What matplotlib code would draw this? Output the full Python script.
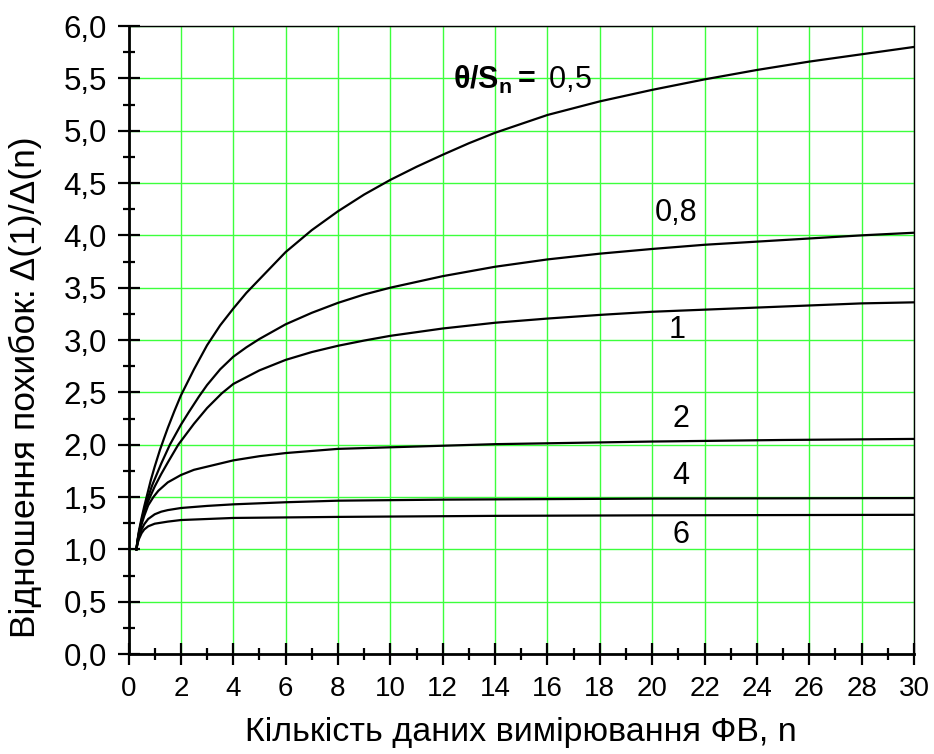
import matplotlib
matplotlib.use("Agg")
import matplotlib.pyplot as plt
from matplotlib.ticker import MultipleLocator, FuncFormatter

plt.rcParams['font.family'] = ['Liberation Sans', 'DejaVu Sans']
plt.rcParams['mathtext.fontset'] = 'custom'
plt.rcParams['mathtext.rm'] = 'Liberation Sans'
plt.rcParams['mathtext.bf'] = 'Liberation Sans:bold'
plt.rcParams['mathtext.it'] = 'Liberation Sans:italic'

# Ratio of errors Δ(1)/Δ(n) versus number of measurements n, for several θ/Sn
n_05 = [0.3, 0.35, 0.4, 0.5, 0.6, 0.69, 0.85, 1.0, 1.2, 1.37, 1.5, 1.75, 2, 2.5, 3, 3.5, 4, 4.5, 5, 6, 7, 8, 9, 10,
        11, 12, 13, 14, 16, 18, 20, 22, 24, 26, 28, 30]
r_05 = [1.0, 1.10, 1.18, 1.30, 1.41, 1.50, 1.66, 1.79, 1.95, 2.07, 2.16, 2.32, 2.47, 2.72, 2.95, 3.14, 3.30, 3.45, 3.58,
        3.84, 4.05, 4.23, 4.39, 4.53, 4.655, 4.77, 4.88, 4.98, 5.15, 5.28, 5.39, 5.49, 5.58, 5.66, 5.73, 5.80]

n_08 = [0.3, 0.35, 0.4, 0.5, 0.6, 0.75, 0.9, 1.0, 1.25, 1.58, 2, 2.3, 2.69, 3, 3.5, 4, 4.5, 5, 6, 7, 8, 9, 10,
        12, 14, 16, 18, 20, 22, 24, 26, 28, 30]
r_08 = [1.0, 1.09, 1.16, 1.28, 1.38, 1.50, 1.61, 1.67, 1.82, 2.00, 2.19, 2.31, 2.46, 2.57, 2.72, 2.84, 2.93, 3.01, 3.15,
        3.26, 3.355, 3.435, 3.50, 3.61, 3.70, 3.77, 3.825, 3.87, 3.91, 3.94, 3.97, 4.00, 4.025]

n_1 = [0.3, 0.35, 0.4, 0.5, 0.65, 0.82, 1.0, 1.25, 1.5, 1.9, 2.5, 3, 3.56, 4, 5, 6, 7, 8, 9, 10,
       12, 14, 16, 18, 20, 22, 24, 26, 28, 30]
r_1 = [1.0, 1.09, 1.16, 1.27, 1.40, 1.50, 1.60, 1.72, 1.83, 2.00, 2.20, 2.35, 2.49, 2.58, 2.71, 2.81, 2.885, 2.945,
       2.995, 3.04, 3.11, 3.165, 3.205, 3.24, 3.27, 3.29, 3.31, 3.33, 3.35, 3.36]

n_2 = [0.3, 0.35, 0.4, 0.5, 0.6, 0.75, 0.95, 1.14, 1.5, 2, 2.5, 3, 4, 5, 6, 8, 10, 14, 20, 25, 30]
r_2 = [1.0, 1.08, 1.14, 1.24, 1.32, 1.42, 1.50, 1.56, 1.64, 1.71, 1.76, 1.79, 1.85, 1.89, 1.92, 1.96, 1.975, 2.005,
       2.03, 2.045, 2.055]

n_4 = [0.3, 0.35, 0.4, 0.5, 0.6, 0.75, 1.0, 1.25, 1.5, 2, 3, 4, 6, 8, 12, 20, 30]
r_4 = [1.0, 1.07, 1.12, 1.19, 1.24, 1.29, 1.335, 1.36, 1.375, 1.395, 1.415, 1.43, 1.45, 1.465, 1.475, 1.485, 1.49]

n_6 = [0.3, 0.35, 0.4, 0.5, 0.6, 0.75, 1.0, 1.5, 2, 3, 4, 8, 14, 20, 30]
r_6 = [1.0, 1.06, 1.10, 1.155, 1.19, 1.22, 1.245, 1.265, 1.28, 1.29, 1.30, 1.31, 1.32, 1.325, 1.33]

curve_labels = ['0,8', '1', '2', '4', '6']
label_pos_x = [20.9, 20.97, 21.09, 21.1, 21.1]
label_pos_y = [4.21, 3.10, 2.25, 1.70, 1.14]

fig = plt.figure(figsize=(9.34, 7.54), dpi=100)
ax = fig.add_axes([0.1376, 0.1326, 0.8410, 0.8329])

for xs, ys in [(n_05, r_05), (n_08, r_08), (n_1, r_1), (n_2, r_2), (n_4, r_4), (n_6, r_6)]:
    ax.plot(xs, ys, color='black', lw=1.6, solid_joinstyle='round', zorder=3)

ax.set_xlim(0, 30)
ax.set_ylim(0, 6)
ax.xaxis.set_major_locator(MultipleLocator(2))
ax.xaxis.set_minor_locator(MultipleLocator(1))
ax.yaxis.set_major_locator(MultipleLocator(0.5))
ax.yaxis.set_minor_locator(MultipleLocator(0.25))
ax.yaxis.set_major_formatter(FuncFormatter(lambda v, p: f"{v:.1f}".replace('.', ',')))
ax.xaxis.set_major_formatter(FuncFormatter(lambda v, p: f"{v:.0f}"))

ax.grid(which='major', color='#3cff3c', lw=1.0, zorder=1)
ax.set_axisbelow(True)

ax.tick_params(which='major', direction='inout', length=16, width=1.6,
               top=False, right=False)
ax.tick_params(which='minor', direction='inout', length=8, width=1.6,
               top=False, right=False)
ax.tick_params(axis='x', which='major', labelsize=20, pad=7.5)
ax.tick_params(axis='y', which='major', labelsize=22.5, pad=7.5)

ax.spines['left'].set_linewidth(2.0)
ax.spines['bottom'].set_linewidth(2.0)
ax.spines['top'].set_linewidth(1.0)
ax.spines['right'].set_linewidth(1.0)

ax.set_xlabel('Кількість даних вимірювання ФВ, n', fontsize=24.5)
ax.xaxis.set_label_coords(0.5, -0.1)
ax.set_ylabel('Відношення похибок: Δ(1)/Δ(n)', fontsize=25.5)
ax.yaxis.set_label_coords(-0.11, 0.425)

ax.text(12.4, 5.48, r'$\mathbf{θ/S_n=}$ 0,5', fontsize=22, ha='left', va='center')
for lab, lx, ly in zip(curve_labels, label_pos_x, label_pos_y):
    ax.text(lx, ly, lab, fontsize=22, ha='center', va='center')

fig.savefig('out.png', dpi=100)
